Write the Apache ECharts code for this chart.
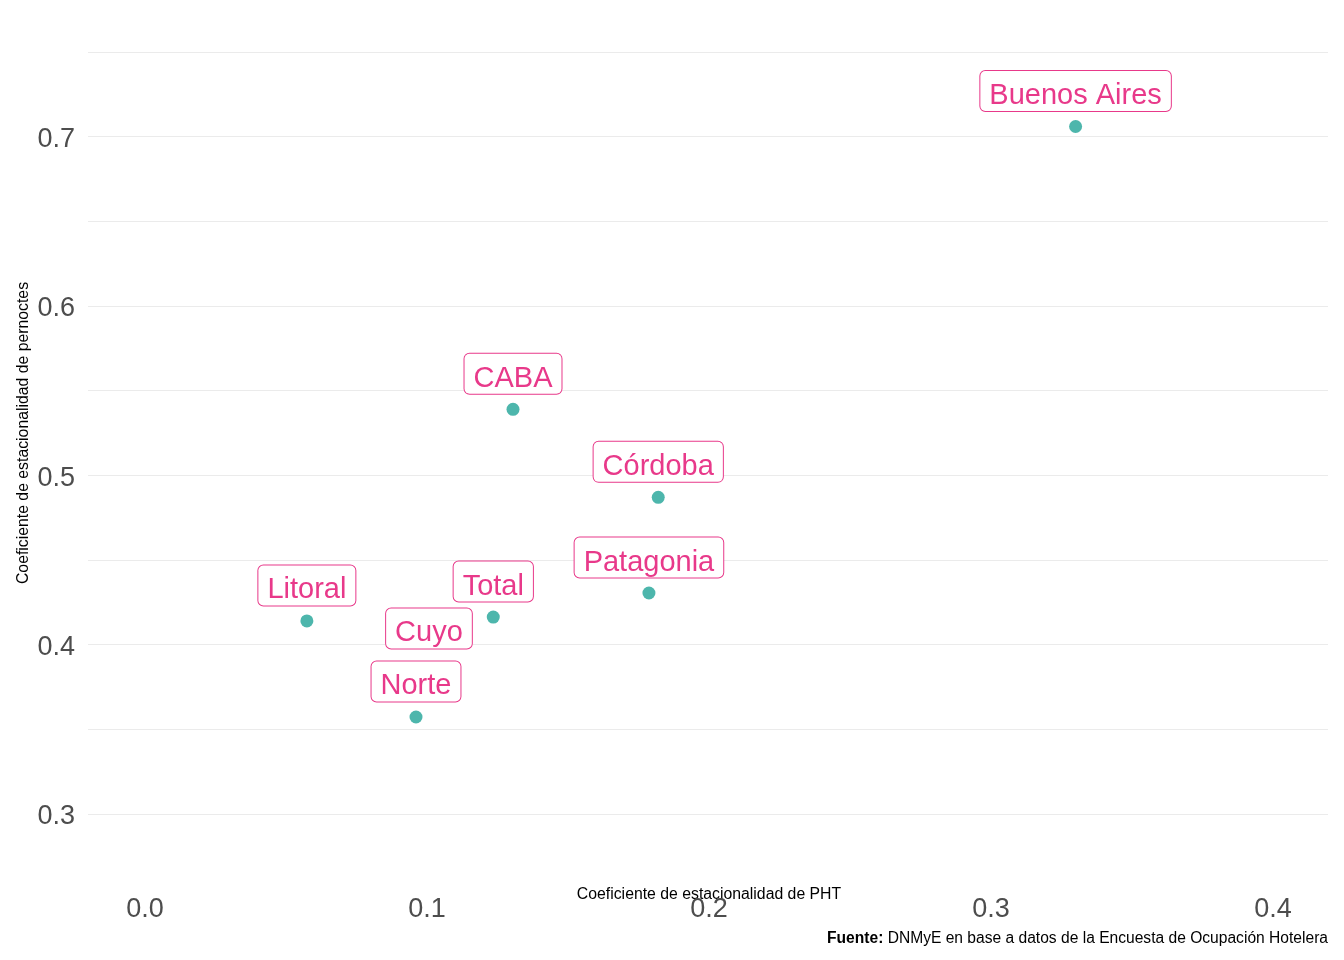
<!DOCTYPE html>
<html>
<head>
<meta charset="utf-8">
<script src="https://cdn.jsdelivr.net/npm/echarts@6/dist/echarts.min.js"></script>
<style>html,body{margin:0;padding:0;background:#fff;}#c{width:1344px;height:960px;}</style>
</head>
<body>
<div id="c"></div>
<script>
const regions = ['Buenos Aires', 'CABA', 'Córdoba', 'Patagonia', 'Total', 'Litoral', 'Norte', 'Cuyo'];
const pht = [0.330, 0.1305, 0.182, 0.1787, 0.1235, 0.0574, 0.0961, 0.1007];
const pernoctes = [0.706, 0.539, 0.487, 0.4305, 0.4163, 0.414, 0.3573, 0.3845];
const xTicks = [0, 0.1, 0.2, 0.3, 0.4];
const yTicks = [0.3, 0.4, 0.5, 0.6, 0.7];

const pink = '#E8398A';
const font = 'Liberation Sans, Arial, sans-serif';
const data = regions.map((r, i) => {
  const d = { name: r, value: [pht[i], pernoctes[i]] };
  if (r === 'Cuyo') d.label = { distance: 16 };
  return d;
});

const chart = echarts.init(document.getElementById('c'), null, { renderer: 'canvas' });
chart.setOption({
  backgroundColor: '#ffffff',
  animation: false,
  textStyle: { fontFamily: font },
  title: {
    right: 11, top: 926,
    text: '{b|Fuente:} {n|DNMyE en base a datos de la Encuesta de Ocupación Hotelera}',
    textStyle: {
      fontWeight: 'normal', fontSize: 15.6, color: '#000',
      rich: {
        b: { fontSize: 15.6, fontWeight: 'bold', color: '#000', fontFamily: font },
        n: { fontSize: 15.6, fontWeight: 'normal', color: '#000', fontFamily: font }
      }
    }
  },
  grid: [
    { left: 88, right: 16, top: 52, bottom: 146 },
    { left: 145, right: 71, top: 52, bottom: 146 }
  ],
  xAxis: [
    { gridIndex: 0, type: 'value', min: -0.02, max: 0.42, show: false },
    {
      gridIndex: 1, type: 'value', min: 0, max: 0.4, interval: 0.1,
      axisLine: { show: false }, axisTick: { show: false }, splitLine: { show: false },
      axisLabel: { margin: 82, fontSize: 27, color: '#4d4d4d', fontFamily: font,
        formatter: v => xTicks.some(t => Math.abs(t - v) < 1e-9) ? v.toFixed(1) : '' },
      name: 'Coeficiente de estacionalidad de PHT', nameLocation: 'middle', nameGap: 73,
      nameMoveOverlap: false,
      nameTextStyle: { fontSize: 15.8, color: '#000', fontFamily: font }
    }
  ],
  yAxis: [
    {
      gridIndex: 0, type: 'value', min: 0.3, max: 0.75, interval: 0.05,
      axisLine: { show: false }, axisTick: { show: false },
      splitLine: { show: true, lineStyle: { color: '#ebebeb', width: 1.2 } },
      axisLabel: { margin: 13, fontFamily: font,
        formatter: v => yTicks.some(t => Math.abs(t - v) < 1e-9) ? '{v|' + v.toFixed(1) + '}' : '',
        rich: { v: { fontSize: 27, color: '#4d4d4d', fontFamily: font, padding: [6, 0, 0, 0] } } },
      name: 'Coeficiente de estacionalidad de pernoctes', nameLocation: 'middle', nameGap: 56,
      nameRotate: 90, nameMoveOverlap: false,
      nameTextStyle: { fontSize: 15.8, color: '#000', fontFamily: font }
    },
    { gridIndex: 1, type: 'value', min: 0.3, max: 0.75, show: false }
  ],
  series: [{
    type: 'scatter',
    xAxisIndex: 1, yAxisIndex: 1,
    data: data,
    symbolSize: 13,
    itemStyle: { color: '#4DB6AC', opacity: 1 },
    label: {
      show: true, position: 'top', distance: 9,
      formatter: p => p.name,
      color: pink, fontSize: 29, fontFamily: font, lineHeight: 26,
      backgroundColor: '#ffffff', borderColor: pink, borderWidth: 1, borderRadius: 5,
      padding: [12, 9, 2, 9]
    },
    emphasis: { disabled: true }
  }]
});
</script>
</body>
</html>
